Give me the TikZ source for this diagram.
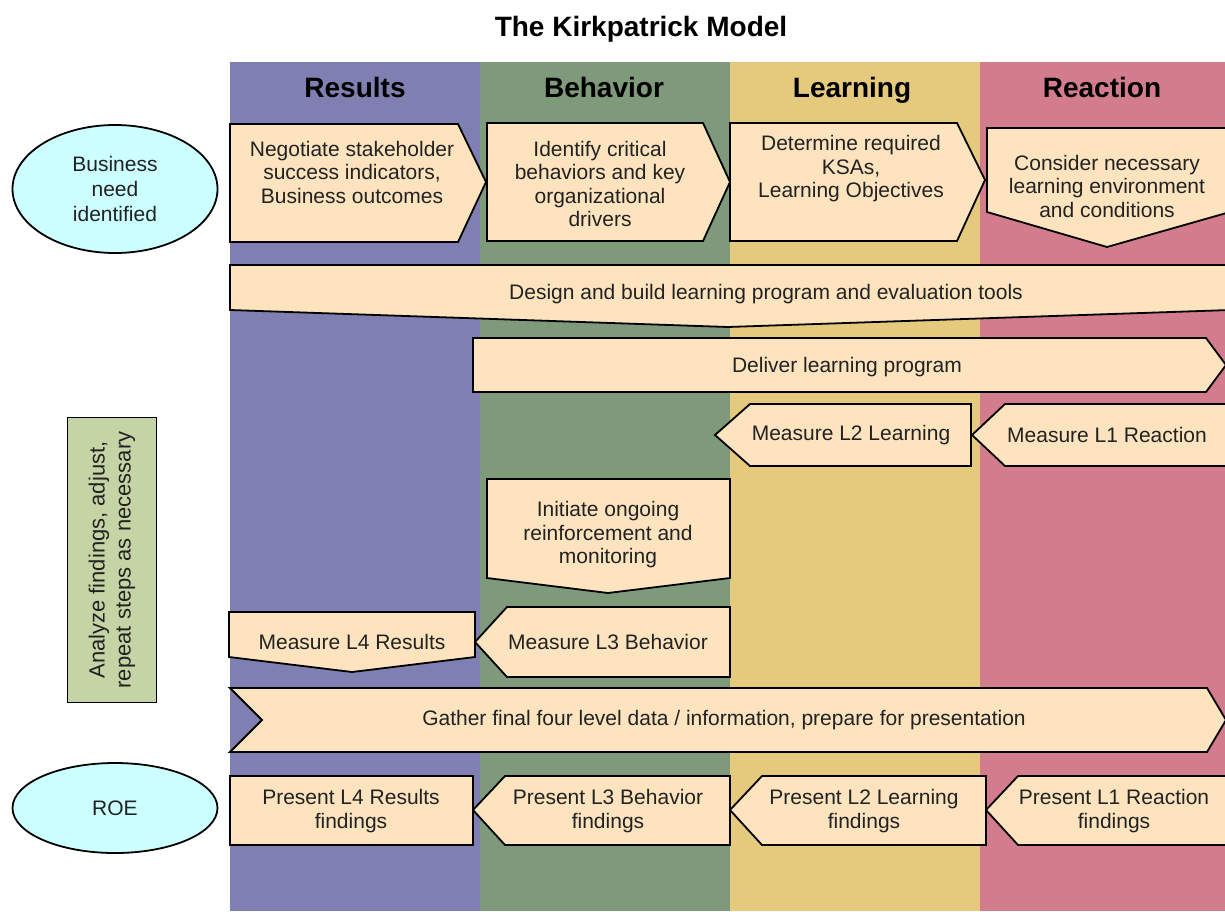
\documentclass[tikz,border=0pt]{standalone}
\usepackage{fontspec}
\setmainfont{Liberation Sans}
\usepackage{tikz}
\usetikzlibrary{shapes.geometric}
\usepackage{xcolor}
\definecolor{ColRes}{RGB}{127,127,178}
\definecolor{ColBeh}{RGB}{126,154,122}
\definecolor{ColLea}{RGB}{229,202,126}
\definecolor{ColRea}{RGB}{211,124,142}
\definecolor{ColBox}{RGB}{253,227,190}
\definecolor{ColOval}{RGB}{204,255,255}
\definecolor{ColNote}{RGB}{197,212,165}
\definecolor{ColInk}{RGB}{34,34,34}
\tikzstyle{StepShape}=[draw=black,fill=ColBox,line width=1.8pt,line join=miter]
\tikzstyle{StepText}=[align=center,text=ColInk,inner sep=0pt,
font=\fontsize{21}{23.5}\selectfont]
\tikzstyle{LaneHead}=[anchor=base,text=black,font=\fontsize{28}{32}\selectfont\bfseries]
\tikzstyle{Oval}=[ellipse,draw=black,fill=ColOval,line width=1.8pt,align=center,
text=ColInk,font=\fontsize{21}{25}\selectfont,inner sep=0pt]
\tikzstyle{NoteBox}=[draw=black,fill=ColNote,line width=1.8pt,align=center,
text=ColInk,font=\fontsize{22}{26}\selectfont,minimum width=285pt,minimum height=89pt]

\begin{document}
\begin{tikzpicture}[x=1pt,y=-1pt]
        \useasboundingbox[fill=white](0,0)rectangle(1225,911);
        % lanes
        \fill[ColRes](230,62)rectangle(480,911);
        \fill[ColBeh](480,62)rectangle(730,911);
        \fill[ColLea](730,62)rectangle(980,911);
        \fill[ColRea](980,62)rectangle(1225,911);
        \node[LaneHead](title)at(641,36){The Kirkpatrick Model};
        \node[LaneHead](hRes)at(355,97){Results};
        \node[LaneHead](hBeh)at(604,97){Behavior};
        \node[LaneHead](hLea)at(852,97){Learning};
        \node[LaneHead](hRea)at(1102,97){Reaction};
        % planning row
        \draw[StepShape](230,124)--(458,124)--(486,182)--(458,242)--(230,242)--cycle;
        \node[StepText](negot)at(352,172){Negotiate stakeholder\\success indicators,\\Business outcomes};
        \draw[StepShape](487,123)--(703,123)--(730,182)--(703,241)--(487,241)--cycle;
        \node[StepText](ident)at(600,184){Identify critical\\behaviors and key\\organizational\\drivers};
        \draw[StepShape](730,123)--(957,123)--(985,180)--(957,241)--(730,241)--cycle;
        \node[StepText](determ)at(851,169){Determine required\\KSAs,\\Learning Objectives};
        \draw[StepShape](987,128)--(1230,128)--(1230,212)--(1107,247)--(987,212)--cycle;
        \node[StepText](consid)at(1107,186){Consider necessary\\learning environment\\and conditions};
        \draw[StepShape](230,265)--(1230,265)--(1230,310)--(728,327)--(230,310)--cycle;
        \node[StepText](design)at(766,294){Design and build learning program and evaluation tools};
        % delivery and measures
        \draw[StepShape](473,338)--(1206,338)--(1226,365)--(1206,392)--(473,392)--cycle;
        \node[StepText](deliv)at(847,367){Deliver learning program};
        \draw[StepShape](715,435)--(750,404)--(971,404)--(971,466)--(750,466)--cycle;
        \node[StepText](measTwo)at(851,435){Measure L2 Learning};
        \draw[StepShape](972,435)--(1005,404)--(1230,404)--(1230,466)--(1005,466)--cycle;
        \node[StepText](measOne)at(1107,435){Measure L1 Reaction};
        \draw[StepShape](487,479)--(730,479)--(730,578)--(608,593)--(487,578)--cycle;
        \node[StepText](init)at(608,535){Initiate ongoing\\reinforcement and\\monitoring};
        \draw[StepShape](229,612)--(475,612)--(475,657)--(352,672)--(229,657)--cycle;
        \node[StepText](measFour)at(352,642){Measure L4 Results};
        \draw[StepShape](475,642)--(507,607)--(730,607)--(730,677)--(507,677)--cycle;
        \node[StepText](measThree)at(608,642){Measure L3 Behavior};
        % reporting
        \draw[StepShape](230,688)--(1207,688)--(1226,720)--(1207,752)--(230,752)--(262,720)--cycle;
        \node[StepText](gather)at(724,720){Gather final four level data / information, prepare for presentation};
        \draw[StepShape](230,776)--(473,776)--(473,845)--(230,845)--cycle;
        \node[StepText](presFour)at(351,811){Present L4 Results\\findings};
        \draw[StepShape](473,810)--(505,776)--(730,776)--(730,845)--(505,845)--cycle;
        \node[StepText](presThree)at(608,811){Present L3 Behavior\\findings};
        \draw[StepShape](730,810)--(762,776)--(986,776)--(986,845)--(762,845)--cycle;
        \node[StepText](presTwo)at(864,811){Present L2 Learning\\findings};
        \draw[StepShape](986,810)--(1018,776)--(1230,776)--(1230,845)--(1018,845)--cycle;
        \node[StepText](presOne)at(1114,811){Present L1 Reaction\\findings};
        % side notes
        \node[Oval,minimum width=205pt,minimum height=128pt](need)at(115,189){Business\\need\\identified};
        \node[Oval,minimum width=205pt,minimum height=90pt](roe)at(115,808){ROE};
        \node[NoteBox,rotate=90](analyze)at(112,560){Analyze findings, adjust,\\repeat steps as necessary};
    \end{tikzpicture}
\end{document}
